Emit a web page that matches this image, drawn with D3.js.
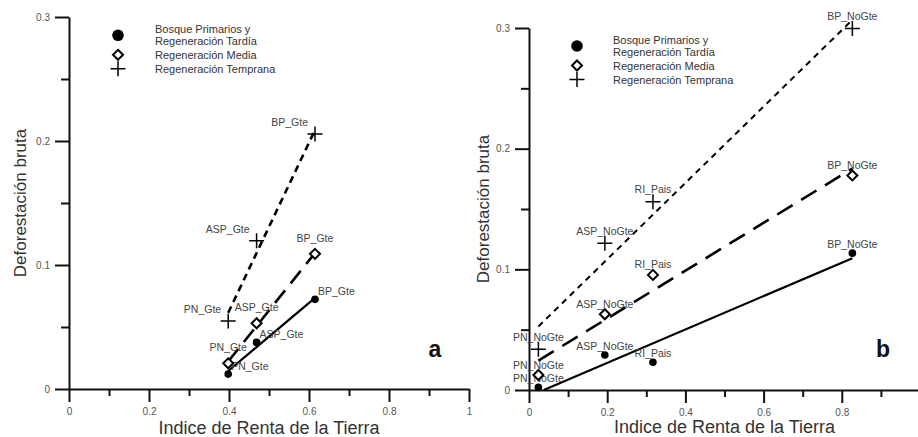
<!DOCTYPE html>
<html>
<head>
<meta charset="utf-8">
<script src="https://cdn.jsdelivr.net/npm/d3@7"></script>
<style>
  html, body { margin: 0; padding: 0; background: #fff; }
  svg { display: block; font-family: "Liberation Sans", Arial, sans-serif; }
</style>
</head>
<body>
<svg id="chart" width="918" height="437"></svg>
<script>
// ---------------- DATA ----------------
const categories = ["Bosque Primarios y|Regeneración Tardía", "Regeneración Media", "Regeneración Temprana"];
const xTickValues = [0, 0.2, 0.4, 0.6, 0.8, 1];
const xMinorTicks = [0.1, 0.3, 0.5, 0.7, 0.9];
const yTickValues = [0, 0.1, 0.2, 0.3];
const yMinorTicks = [0.05, 0.15, 0.25];
const xTitle = "Indice de Renta de la Tierra";
const yTitle = "Deforestación bruta";

// Panel a (Gte)
const aSites = ["PN_Gte", "ASP_Gte", "BP_Gte"];
const aIRT = [0.398, 0.469, 0.615];
const aTardia = [0.012, 0.0376, 0.0723];
const aMedia = [0.0207, 0.053, 0.109];
const aTemprana = [0.0548, 0.1196, 0.2056];

// Panel b (NoGte)
const bSites = ["PN_NoGte", "ASP_NoGte", "RI_Pais", "BP_NoGte"];
const bIRT = [0.024, 0.194, 0.317, 0.827];
const bTardia = [0.0022, 0.029, 0.023, 0.1134];
const bMedia = [0.0124, 0.0628, 0.0954, 0.1778];
const bTemprana = [0.0338, 0.1217, 0.156, 0.2996];

// ---------------- LAYOUT ----------------
const svg = d3.select("#chart");
const W = 918;

const panels = [
  {
    letter: "a", sites: aSites, x: aIRT, series: [aTardia, aMedia, aTemprana],
    xRange: [69, 469], yRange: [389, 17],
    yTitleX: 26, xTitleY: 436, letterPos: [435, 357],
    legend: { sx: 118, tx: 155, y0: 29.3 },
    labels: [
      { anchor: "start", dx: 3, dy: -4 },
      { anchor: "middle", dx: 0, dy: -12 },
      { anchor: "end", dx: -7, dy: -8 }
    ],
    dash: ["none", "16,9", "7,5"], lw: [2.2, 2.6, 2.6]
  },
  {
    letter: "b", sites: bSites, x: bIRT, series: [bTardia, bMedia, bTemprana],
    xRange: [529, 920], yRange: [390, 28],
    yTitleX: 489, xTitleY: 435, letterPos: [883, 357],
    legend: { sx: 577, tx: 613, y0: 40 },
    labels: [
      { anchor: "middle", dx: 0, dy: -5 },
      { anchor: "middle", dx: 0, dy: -6.5 },
      { anchor: "middle", dx: 0, dy: -8.5 }
    ],
    dash: ["none", "18,10", "6,5"], lw: [2.2, 2.6, 2.0]
  }
];

function fit(xs, ys) {
  const mx = d3.mean(xs), my = d3.mean(ys);
  let sxy = 0, sxx = 0;
  xs.forEach((x, i) => { sxy += (x - mx) * (ys[i] - my); sxx += (x - mx) * (x - mx); });
  const m = sxy / sxx;
  return { m, b: my - m * mx };
}

function drawMarker(g, type, cx, cy, big) {
  if (type === 0) {
    g.append("circle").attr("cx", cx).attr("cy", cy).attr("r", big ? 5.8 : 3.8).attr("fill", "#000");
  } else if (type === 1) {
    const s = 5;
    g.append("path")
      .attr("d", `M${cx},${cy - s}L${cx + s},${cy}L${cx},${cy + s}L${cx - s},${cy}Z`)
      .attr("fill", "#fff").attr("stroke", "#000").attr("stroke-width", 2);
  } else {
    const s = 7.5;
    g.append("path")
      .attr("d", `M${cx - s},${cy}H${cx + s}M${cx},${cy - s}V${cy + s}`)
      .attr("stroke", "#000").attr("stroke-width", 1.5).attr("fill", "none");
  }
}

panels.forEach(p => {
  const x = d3.scaleLinear().domain([0, 1]).range(p.xRange);
  const y = d3.scaleLinear().domain([0, 0.3]).range(p.yRange);
  const g = svg.append("g");

  // axes
  const fmt = d => x(d) > W - 4 ? "" : d3.format("")(+d.toFixed(1));
  g.append("g").attr("transform", `translate(0,${y(0)})`)
    .call(d3.axisBottom(x).tickValues(xTickValues).tickSize(13).tickSizeOuter(0).tickPadding(6)
      .tickFormat(fmt));
  g.append("g").attr("transform", `translate(0,${y(0)})`)
    .call(d3.axisBottom(x).tickValues(xMinorTicks).tickSize(7).tickFormat(""))
    .select(".domain").remove();
  g.append("g").attr("transform", `translate(${x(0)},0)`)
    .call(d3.axisLeft(y).tickValues(yTickValues).tickSize(14).tickSizeOuter(0).tickPadding(5)
      .tickFormat(d => d3.format("")(+d.toFixed(1))));
  g.append("g").attr("transform", `translate(${x(0)},0)`)
    .call(d3.axisLeft(y).tickValues(yMinorTicks).tickSize(8).tickFormat(""))
    .select(".domain").remove();

  g.selectAll(".domain, .tick line").attr("stroke", "#111").attr("stroke-width", 2);
  g.selectAll(".tick text").attr("fill", "#555").attr("font-size", 10)
    .attr("font-family", "'Liberation Sans', Arial, sans-serif");

  // titles
  g.append("text").attr("x", (p.xRange[0] + p.xRange[1]) / 2).attr("y", p.xTitleY - 2)
    .attr("text-anchor", "middle").attr("font-size", 18).attr("fill", "#333").text(xTitle);
  g.append("text")
    .attr("transform", `translate(${p.yTitleX},${(p.yRange[0] + p.yRange[1]) / 2}) rotate(-90)`)
    .attr("text-anchor", "middle").attr("font-size", 17).attr("fill", "#333").text(yTitle);

  // regression lines
  p.series.forEach((ys, k) => {
    const f = fit(p.x, ys);
    let x0 = d3.min(p.x), x1 = d3.max(p.x);
    if (f.m * x0 + f.b < 0) x0 = -f.b / f.m;
    g.append("line")
      .attr("x1", x(x0)).attr("y1", y(f.m * x0 + f.b))
      .attr("x2", x(x1)).attr("y2", y(f.m * x1 + f.b))
      .attr("stroke", "#000").attr("stroke-width", p.lw[k])
      .attr("stroke-dasharray", p.dash[k]);
  });

  // labels
  p.series.forEach((ys, k) => {
    const L = p.labels[k];
    ys.forEach((v, i) => {
      g.append("text").attr("x", x(p.x[i]) + L.dx).attr("y", y(v) + L.dy)
        .attr("text-anchor", L.anchor).attr("font-size", 10.5).attr("fill", "#444")
        .text(p.sites[i]);
    });
  });

  // markers
  p.series.forEach((ys, k) => {
    ys.forEach((v, i) => drawMarker(g, k, x(p.x[i]), y(v), false));
  });

  // legend
  const rowOff = [0, 12, 25.5, 39.5];
  const lines = [categories[0].split("|")[0], categories[0].split("|")[1], categories[1], categories[2]];
  lines.forEach((t, i) => {
    g.append("text").attr("x", p.legend.tx).attr("y", p.legend.y0 + rowOff[i] + 4)
      .attr("font-size", 11).attr("fill", "#333").text(t);
  });
  drawMarker(g, 0, p.legend.sx, p.legend.y0 + 6, true);
  drawMarker(g, 1, p.legend.sx, p.legend.y0 + rowOff[2], true);
  drawMarker(g, 2, p.legend.sx, p.legend.y0 + rowOff[3], true);

  // panel letter
  g.append("text").attr("x", p.letterPos[0]).attr("y", p.letterPos[1])
    .attr("text-anchor", "middle").attr("font-size", 23).attr("font-weight", "bold")
    .attr("fill", "#111").text(p.letter);
});
</script>
</body>
</html>
